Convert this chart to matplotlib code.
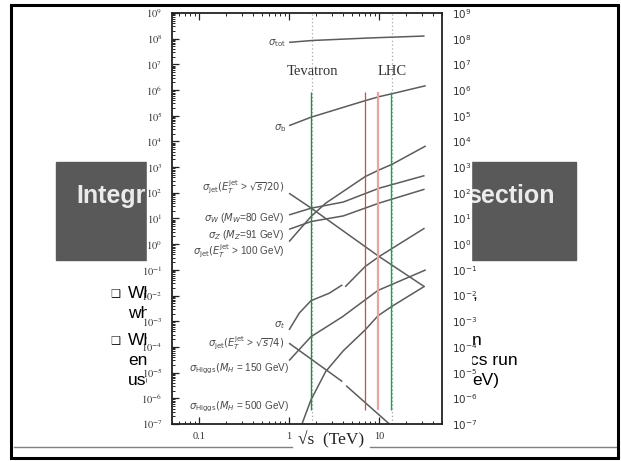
import matplotlib
matplotlib.use("Agg")
import matplotlib.pyplot as plt
from matplotlib.patches import Rectangle
from matplotlib.ticker import LogLocator, FixedLocator, FixedFormatter, NullFormatter

# ---------------- data (sqrt(s) in TeV, sigma in nb) ----------------
energy_tot = [1.0, 1.8, 8.0, 32.0]
sigma_tot = [7.2e7, 8.5e7, 1.07e8, 1.27e8]

energy_b = [1.0, 1.75, 7.0, 10.0, 14.0, 33.0]
sigma_b = [4.12e4, 8.75e4, 3.87e5, 5.53e5, 7.24e5, 1.48e6]

energy_jet20 = [1.0, 1.75, 10.0, 32.0]
sigma_jet20 = [96.0, 25.8, 0.33, 0.022]

energy_w = [1.0, 1.75, 4.0, 10.0, 32.0]
sigma_w = [13.8, 25.1, 43.7, 151.0, 468.0]

energy_z = [1.0, 1.75, 4.0, 10.0, 32.0]
sigma_z = [3.8, 7.6, 12.6, 39.8, 138.0]

energy_jet100 = [1.0, 1.75, 2.55, 7.0, 10.0, 14.0, 33.0]
sigma_jet100 = [1.26, 11.9, 39.4, 427.0, 778.0, 1300.0, 6680.0]

energy_top_ppbar = [1.0, 1.3, 1.75, 2.8, 3.9]
sigma_top_ppbar = [4.6e-4, 2.1e-3, 6.3e-3, 1.24e-2, 2.6e-2]
energy_top_pp = [4.2, 7.0, 10.0, 32.0]
sigma_top_pp = [2.2e-2, 0.135, 0.33, 4.2]

energy_jet4_ppbar = [1.0, 3.9]
sigma_jet4_ppbar = [1.4e-4, 4.5e-6]
energy_jet4_pp = [4.3, 13.0]
sigma_jet4_pp = [3.1e-6, 1.0e-7]

energy_h150 = [1.0, 1.75, 3.9, 7.0, 9.7, 33.0]
sigma_h150 = [2.95e-5, 2.5e-4, 1.48e-3, 6.8e-3, 1.58e-2, 0.1]

energy_h500 = [1.39, 1.75, 2.55, 4.0, 7.0, 9.7, 13.7, 32.0]
sigma_h500 = [1.0e-7, 8.7e-7, 1.1e-5, 7.1e-5, 4.6e-4, 1.62e-3, 3.7e-3, 2.3e-2]

collider_energies = [1.8, 14.0]
collider_names = ["Tevatron", "LHC"]
marker_energies = [1.75, 7.0, 9.8, 13.7]
marker_colors = ["#1b8f4a", "#c0504d", "#eaa2a2", "#00b050"]
marker_widths = [1.0, 0.9, 1.6, 1.0]
marker_span = [3.5e-7, 8.7e5]

y_ticks = [10.0 ** k for k in range(-7, 10)]
x_ticks = [0.1, 1.0, 10.0]
x_tick_labels = ["0.1", "1", "10"]

# curve labels: (text, sqrt(s) anchor, sigma anchor)
curve_labels = [
    (r"$\sigma_{\rm tot}$", 0.93, 6.8e7),
    (r"$\sigma_{\rm b}$", 0.93, 3.2e4),
    (r"$\sigma_{\rm jet}(E_T^{\rm jet}$ > $\sqrt{s}/20)$", 0.88, 166.0),
    (r"$\sigma_{W}$ ($M_W$=80 GeV)", 0.88, 10.2),
    (r"$\sigma_{Z}$ ($M_Z$=91 GeV)", 0.88, 2.3),
    (r"$\sigma_{\rm jet}(E_T^{\rm jet}$ > 100 GeV)", 0.90, 0.515),
    (r"$\sigma_{t}$", 0.90, 7.2e-4),
    (r"$\sigma_{\rm jet}(E_T^{\rm jet}$ > $\sqrt{s}/4)$", 0.88, 1.41e-4),
    (r"$\sigma_{\rm Higgs}(M_H$ = 150 GeV)", 1.0, 1.38e-5),
    (r"$\sigma_{\rm Higgs}(M_H$ = 500 GeV)", 1.0, 4.8e-7),
]

# ---------------- figure ----------------
W, H = 621, 461
fig = plt.figure(figsize=(W / 100, H / 100), dpi=100)
fig.patch.set_facecolor("white")

bg = fig.add_axes([0, 0, 1, 1])
bg.set_xlim(0, W)
bg.set_ylim(H, 0)
bg.axis("off")

sans = ["Liberation Sans", "DejaVu Sans"]
serif = ["Liberation Serif", "DejaVu Serif"]

# slide title bar and text
bg.add_patch(Rectangle((56, 162), 520, 98, color="#595959", zorder=1))
bg.text(76, 196, "Integr", color="#ebebeb", fontsize=18, fontweight="bold",
        family=sans, va="center", ha="left", zorder=2)
bg.text(555, 196, "section", color="#ebebeb", fontsize=18, fontweight="bold",
        family=sans, va="center", ha="right", zorder=2)

# slide bullets (fragments visible around the picture)
for yb in (293, 340):
    bg.text(110, yb, "\u2751", fontsize=8, family=sans, va="center", ha="left",
            color="#222", zorder=2)
for txt, yb in (("Wh", 293), ("wh", 313), ("Wh", 340), ("en", 360), ("use", 380)):
    bg.text(128, yb, txt, fontsize=12.5, family=sans, va="center", ha="left",
            color="black", zorder=2)
for txt, xb, yb in ((",", 472, 294), ("n", 472, 340), ("cs run", 470, 360), ("eV)", 472, 380)):
    bg.text(xb, yb, txt, fontsize=12.5, family=sans, va="center", ha="left",
            color="black", zorder=2)

# picture area (white) covering slide content
bg.add_patch(Rectangle((147, 7), 324, 437, color="white", zorder=3))

# slide separator line
bg.plot([14, 292], [447, 447], color="#808080", lw=1.0, zorder=4)
bg.plot([370, 617], [447, 447], color="#808080", lw=1.0, zorder=4)

# slide border
bg.add_patch(Rectangle((11, 5), 607, 453, fill=False, lw=2.2, edgecolor="black", zorder=10))

# axis label
bg.text(331, 440, "\u221as  (TeV)", fontsize=12.5, family=serif, ha="center",
        va="center", color="#222", zorder=5)

# ---------------- chart ----------------
ax = fig.add_axes([172 / W, 1 - 424 / H, 270 / W, 411 / H])
ax.patch.set_alpha(0)
ax.set_xscale("log")
ax.set_yscale("log")
ax.set_xlim(0.05, 50)
ax.set_ylim(1e-7, 1e9)

curve_kw = dict(color="#5c5c5c", lw=1.1, solid_capstyle="butt")
ax.plot(energy_tot, sigma_tot, **curve_kw)
ax.plot(energy_b, sigma_b, **curve_kw)
ax.plot(energy_jet20, sigma_jet20, **curve_kw)
ax.plot(energy_w, sigma_w, **curve_kw)
ax.plot(energy_z, sigma_z, **curve_kw)
ax.plot(energy_jet100, sigma_jet100, **curve_kw)
ax.plot(energy_top_ppbar, sigma_top_ppbar, **curve_kw)
ax.plot(energy_top_pp, sigma_top_pp, **curve_kw)
ax.plot(energy_jet4_ppbar, sigma_jet4_ppbar, **curve_kw)
ax.plot(energy_jet4_pp, sigma_jet4_pp, **curve_kw)
ax.plot(energy_h150, sigma_h150, **curve_kw)
ax.plot(energy_h500, sigma_h500, **curve_kw)

for e in collider_energies:
    ax.axvline(e, ls=(0, (1, 2)), color="#a8a8a8", lw=0.9, zorder=1)
for e, name in zip(collider_energies, collider_names):
    ax.text(e, 5.2e6, name, family=serif, fontsize=10.5, color="#333",
            ha="center", va="center")

for e, c, w in zip(marker_energies, marker_colors, marker_widths):
    ax.vlines(e, marker_span[0], marker_span[1], colors=c, lw=w, zorder=5)

for txt, e, s in curve_labels:
    t = ax.text(e, s, txt, fontsize=7.2, color="#4a4a4a", ha="right", va="center",
                family=sans)
    t.set_math_fontfamily("dejavusans")

# ticks
for sp in ax.spines.values():
    sp.set_linewidth(1.3)
    sp.set_color("#222")
ax.yaxis.set_major_locator(FixedLocator(y_ticks))
ax.yaxis.set_minor_locator(LogLocator(base=10, subs=range(2, 10), numticks=400))
ax.yaxis.set_minor_formatter(NullFormatter())
ax.xaxis.set_major_locator(FixedLocator(x_ticks))
ax.xaxis.set_major_formatter(FixedFormatter(x_tick_labels))
ax.xaxis.set_minor_locator(LogLocator(base=10, subs=range(2, 10), numticks=400))
ax.xaxis.set_minor_formatter(NullFormatter())
ax.tick_params(which="both", direction="in", top=True, right=True, color="#222")
ax.tick_params(which="major", length=5, width=0.9)
ax.tick_params(which="minor", length=2.5, width=0.7)
ax.tick_params(axis="y", which="major", pad=7)
ax.tick_params(axis="x", which="major", pad=6, labelsize=7.5, labelcolor="#333")
for lab in ax.get_xticklabels():
    lab.set_family(serif)
ax.set_yticks(y_ticks)
ax.set_yticklabels([r"$10^{%d}$" % k for k in range(-7, 10)])
for lab in ax.get_yticklabels():
    lab.set_math_fontfamily("stix")
    lab.set_fontsize(7.5)
    lab.set_color("#333")

ax2 = ax.twinx()
ax2.set_yscale("log")
ax2.set_ylim(1e-7, 1e9)
ax2.set_yticks(y_ticks)
ax2.set_yticklabels([r"$10^{%d}$" % k for k in range(-7, 10)])
ax2.yaxis.set_minor_formatter(NullFormatter())
ax2.tick_params(which="both", length=0, pad=7)
for lab in ax2.get_yticklabels():
    lab.set_math_fontfamily("dejavusans")
    lab.set_fontsize(7.5)
    lab.set_color("#333")
for sp in ax2.spines.values():
    sp.set_visible(False)

fig.savefig("out.png", dpi=100)
